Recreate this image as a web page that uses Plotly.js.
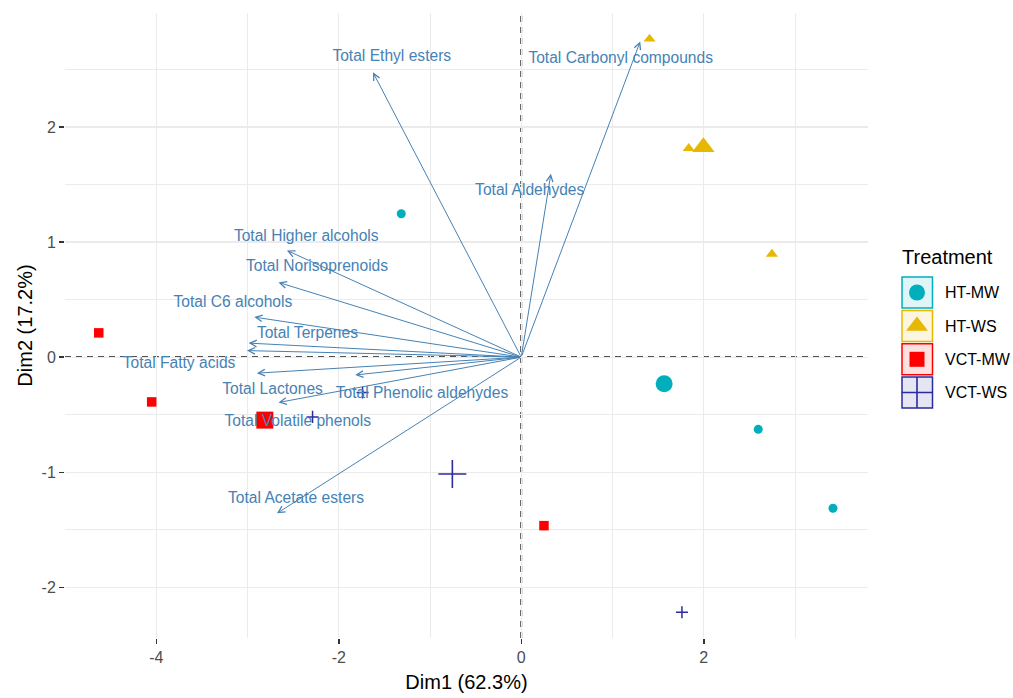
<!DOCTYPE html>
<html>
<head>
<meta charset="utf-8">
<script src="https://cdn.plot.ly/plotly-3.0.1.min.js"></script>
<style>html,body{margin:0;padding:0;background:#fff;}#chart{width:1013px;height:698px;}</style>
</head>
<body>
<div id="chart"></div>
<script>
// ---- Individuals (PCA scores) ----
const htmwX = [-1.315, 2.597, 3.416];
const htmwY = [1.246, -0.627, -1.313];
const htwsX = [1.406, 1.835, 2.747];
const htwsY = [2.765, 1.814, 0.896];
const vctmwX = [-4.63, -4.05, 0.249];
const vctmwY = [0.211, -0.389, -1.464];
const vctwsX = [-2.287, -1.739, 1.761];
const vctwsY = [-0.519, -0.308, -2.217];

// ---- Group mean points ----
const groupNames = ['HT-MW', 'HT-WS', 'VCT-MW', 'VCT-WS'];
const groupMeanX = [1.566, 1.996, -2.81, -0.755];
const groupMeanY = [-0.231, 1.825, -0.547, -1.015];

// ---- Variables (arrows) ----
const varNames = ['Total Ethyl esters', 'Total Carbonyl compounds', 'Total Aldehydes',
  'Total Higher alcohols', 'Total Norisoprenoids', 'Total C6 alcohols', 'Total Terpenes',
  'Total Fatty acids', 'Total Lactones', 'Total Volatile phenols', 'Total Phenolic aldehydes',
  'Total Acetate esters'];
const varX = [-1.625, 1.304, 0.325, -2.568, -2.66, -2.926, -2.988, -3.006, -2.897, -2.66, -1.819, -2.677];
const varY = [2.475, 2.743, 1.594, 0.927, 0.649, 0.348, 0.122, 0.057, -0.139, -0.394, -0.155, -1.357];
const labelX = [-1.419, 1.09, 0.093, -2.356, -2.238, -3.16, -2.343, -3.75, -2.725, -2.449, -1.088, -2.468];
const labelY = [2.605, 2.59, 1.446, 1.04, 0.779, 0.466, 0.2, -0.058, -0.284, -0.56, -0.319, -1.235];

// ---- Axes ----
const xTickVals = [-4, -2, 0, 2];
const xTickText = ['-4', '-2', '0', '2'];
const yTickVals = [-2, -1, 0, 1, 2];
const yTickText = ['-2', '-1', '0', '1', '2'];

const colors = ['#00AFBB', '#E7B800', '#FF0000', '#2B2B9E'];
const fills = ['rgba(0,175,187,0.12)', 'rgba(231,184,0,0.12)', 'rgba(255,0,0,0.12)', 'rgba(43,43,158,0.12)'];
const symbols = ['circle', 'triangle-up', 'square', 'cross-thin-open'];
const arrowColor = '#4682B4';
const FONT = 'Liberation Sans, Arial, sans-serif';

const traces = [];
const groupsX = [htmwX, htwsX, vctmwX, vctwsX];
const groupsY = [htmwY, htwsY, vctmwY, vctwsY];
const smallSizes = [9, 10.5, 9.5, 8.6];
const bigSizes = [17, 19.5, 17, 20];

for (let g = 0; g < 4; g++) {
  const open = symbols[g] === 'cross-thin-open';
  traces.push({
    type: 'scatter', mode: 'markers', x: groupsX[g], y: groupsY[g],
    xaxis: 'x', yaxis: 'y', showlegend: false, hoverinfo: 'skip',
    marker: {symbol: symbols[g], size: smallSizes[g], color: colors[g], opacity: 1,
      line: {color: colors[g], width: open ? 1.5 : 0}}
  });
}
traces.push({
  type: 'scatter', mode: 'markers', x: groupMeanX, y: groupMeanY,
  xaxis: 'x', yaxis: 'y', showlegend: false, hoverinfo: 'skip',
  marker: {symbol: symbols, size: bigSizes, color: colors, opacity: 1,
    line: {color: colors, width: [0, 0, 0, 1.6]}}
});
traces.push({
  type: 'scatter', mode: 'text', x: labelX, y: labelY, text: varNames,
  xaxis: 'x', yaxis: 'y', showlegend: false, hoverinfo: 'skip',
  textposition: 'middle center',
  textfont: {family: FONT, size: 15.6, color: arrowColor}
});

// ---- Custom legend (x2/y2 use pixel-like units) ----
const legCenters = [292.5, 326, 359.3, 392.5];
traces.push({
  type: 'scatter', mode: 'markers', x: [917, 917, 917, 917], y: legCenters,
  xaxis: 'x2', yaxis: 'y2', showlegend: false, hoverinfo: 'skip',
  marker: {symbol: symbols, size: [16, 19, 15, 22], color: colors, opacity: 1,
    line: {color: colors, width: [0, 0, 0, 1.6]}}
});

const annotations = [];
for (let i = 0; i < varNames.length; i++) {
  annotations.push({
    x: varX[i], y: varY[i], ax: 0, ay: 0, xref: 'x', yref: 'y', axref: 'x', ayref: 'y',
    text: '', showarrow: true, arrowhead: 5, arrowsize: 1.3, arrowwidth: 1,
    arrowcolor: arrowColor, standoff: 0, startstandoff: 0
  });
}
annotations.push({
  x: 900, y: 257, xref: 'x2', yref: 'y2', text: 'Treatment', showarrow: false,
  xanchor: 'left', yanchor: 'middle', font: {family: FONT, size: 20, color: '#000'}
});
for (let g = 0; g < 4; g++) {
  annotations.push({
    x: 943, y: legCenters[g], xref: 'x2', yref: 'y2', text: groupNames[g], showarrow: false,
    xanchor: 'left', yanchor: 'middle', font: {family: FONT, size: 16, color: '#000'}
  });
}

const shapes = [
  {type: 'line', xref: 'x', yref: 'y domain', x0: 0, x1: 0, y0: 0, y1: 1,
    line: {color: '#1a1a1a', width: 1.8, dash: '6px,5px'}, layer: 'below'},
  {type: 'line', xref: 'x domain', yref: 'y', x0: 0, x1: 1, y0: 0, y1: 0,
    line: {color: '#1a1a1a', width: 1.8, dash: '6px,5px'}, layer: 'below'}
];
for (let g = 0; g < 4; g++) {
  shapes.push({
    type: 'rect', xref: 'x2', yref: 'y2', x0: 902, x1: 932.5,
    y0: legCenters[g] - 15.5, y1: legCenters[g] + 15.5,
    fillcolor: fills[g], line: {color: colors[g], width: 1.5}, layer: 'below'
  });
}

const layout = {
  width: 1013, height: 698,
  margin: {l: 65, r: 0, t: 13, b: 60, pad: 0},
  paper_bgcolor: '#fff', plot_bgcolor: '#fff',
  font: {family: FONT},
  xaxis: {
    domain: [0, 803 / 948], range: [-5.0, 3.8], anchor: 'y',
    tickmode: 'array', tickvals: xTickVals, ticktext: xTickText,
    ticks: 'outside', ticklen: 5, tickwidth: 1.5, tickcolor: '#333',
    tickfont: {family: FONT, size: 16, color: '#4D4D4D'},
    showgrid: true, gridcolor: '#EBEBEB', gridwidth: 1.2,
    minor: {dtick: 1, tick0: 0, showgrid: true, gridcolor: '#EBEBEB', gridwidth: 1, ticks: ''},
    zeroline: false, showline: false,
    title: {text: 'Dim1 (62.3%)', font: {family: FONT, size: 20, color: '#000'}, standoff: 9}
  },
  yaxis: {
    domain: [0, 1], range: [-2.44, 2.99], anchor: 'x',
    tickmode: 'array', tickvals: yTickVals, ticktext: yTickText,
    ticks: 'outside', ticklen: 5, tickwidth: 1.5, tickcolor: '#333',
    tickfont: {family: FONT, size: 16, color: '#4D4D4D'},
    showgrid: true, gridcolor: '#EBEBEB', gridwidth: 1.2,
    minor: {dtick: 0.5, tick0: 0, showgrid: true, gridcolor: '#EBEBEB', gridwidth: 1, ticks: ''},
    zeroline: false, showline: false,
    title: {text: 'Dim2 (17.2%)', font: {family: FONT, size: 20, color: '#000'}, standoff: 3}
  },
  xaxis2: {domain: [805 / 948, 1], range: [870, 1013], anchor: 'y2',
    visible: false, fixedrange: true},
  yaxis2: {domain: [0, 1], range: [638, 13], anchor: 'x2',
    visible: false, fixedrange: true},
  showlegend: false,
  annotations: annotations,
  shapes: shapes
};

Plotly.newPlot('chart', traces, layout, {displayModeBar: false, staticPlot: true});
</script>
</body>
</html>
